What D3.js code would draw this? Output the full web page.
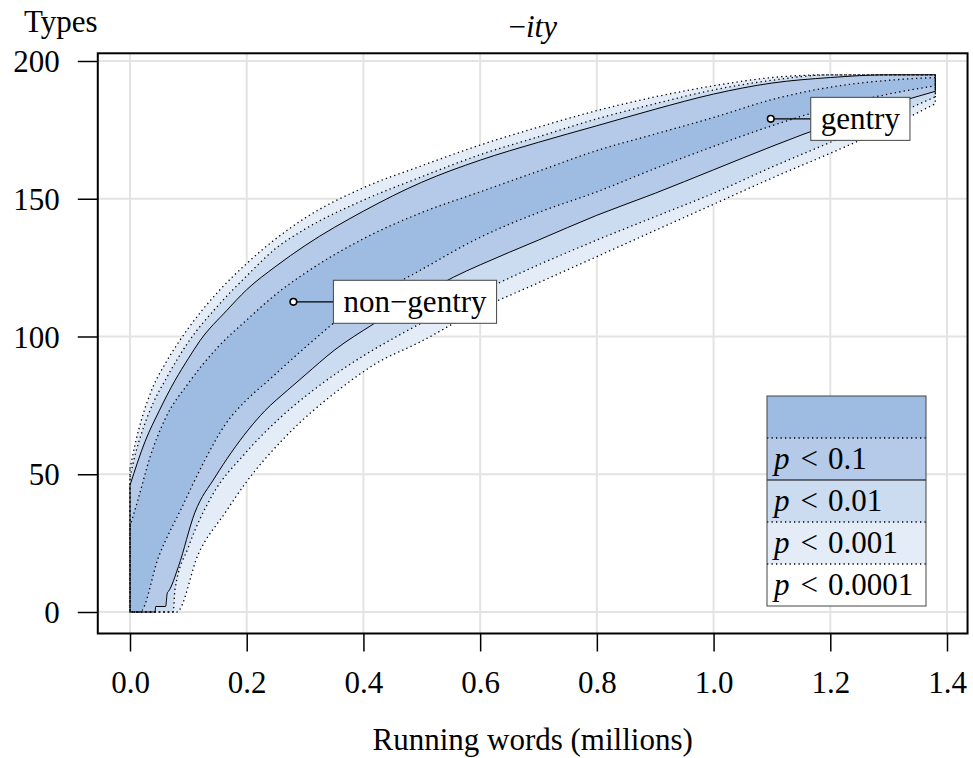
<!DOCTYPE html>
<html>
<head>
<meta charset="utf-8">
<script src="https://cdn.jsdelivr.net/npm/d3@7"></script>
<style>
  body { margin: 0; background: #fff; }
  svg text { font-family: "Liberation Serif", "Times New Roman", serif; fill: #000; }
</style>
</head>
<body>
<svg id="chart" width="973" height="758"></svg>
<script>
// tick labels
const xTicks = [0, 0.2, 0.4, 0.6, 0.8, 1.0, 1.2, 1.4];
const yTicks = [0, 50, 100, 150, 200];

// envelope boundaries, [running words (millions), types]
const upper0001 = [[0,52],[0.01,62],[0.02,70],[0.04,82],[0.06,90],[0.1,103],[0.15,116],[0.2,126.5],[0.25,135.5],[0.3,143],[0.4,154],[0.5,162],[0.6,169.5],[0.7,176],[0.8,182],[0.9,187],[1.0,191],[1.1,194],[1.2,195],[1.38,195]];
const upper001 = [[0,49],[0.01,58],[0.02,65],[0.04,76],[0.06,84],[0.1,98],[0.15,111],[0.2,122],[0.25,132],[0.3,139],[0.4,149.5],[0.5,158],[0.6,166],[0.7,172.5],[0.8,179],[0.9,184.5],[1.0,189.5],[1.1,193],[1.2,195],[1.38,195]];
const upper01 = [[0,46],[0.026,62],[0.05,73],[0.077,84],[0.1,92],[0.12,98.5],[0.166,109.5],[0.2,117],[0.25,125.5],[0.3,133],[0.4,145.5],[0.5,156],[0.6,164],[0.7,170.5],[0.8,176.5],[0.9,182.5],[1.0,188],[1.1,192],[1.2,194],[1.3,195],[1.38,195]];
const upper1 = [[0,31],[0.014,41],[0.034,56],[0.06,70],[0.1,83],[0.15,96],[0.2,106],[0.257,116.5],[0.3,123],[0.4,135.5],[0.5,145],[0.6,152.5],[0.7,160],[0.8,167.5],[0.9,173.5],[1.0,179.5],[1.1,186],[1.2,190.5],[1.3,193],[1.38,194]];

const lower1 = [[0,0],[0.017,0],[0.049,20],[0.089,38],[0.128,55],[0.163,68],[0.2,77],[0.237,84],[0.3,96],[0.4,113],[0.48,122],[0.6,136],[0.7,145],[0.8,152.5],[0.9,161],[1.0,169],[1.1,176.5],[1.2,183],[1.3,188],[1.38,191]];
const lower01 = [[0,0],[0.043,0],[0.044,2],[0.061,2],[0.064,7],[0.066,7.5],[0.083,16.5],[0.111,36],[0.146,49],[0.174,58],[0.231,73],[0.27,80.5],[0.3,86],[0.35,95],[0.417,104.5],[0.5,115],[0.554,121.5],[0.6,126],[0.7,135],[0.8,144],[0.9,152],[1.0,160.5],[1.1,169],[1.2,177],[1.3,184],[1.38,189]];
const lower001 = [[0,0],[0.074,0],[0.077,8],[0.1,23.5],[0.14,42],[0.197,57.5],[0.26,71],[0.314,80.5],[0.4,93],[0.457,100],[0.55,110.5],[0.628,119],[0.7,126],[0.8,135],[0.9,143.5],[1.0,152],[1.1,161.5],[1.2,170.5],[1.3,179.5],[1.38,187]];
const lower0001 = [[0,0],[0.08,0],[0.117,21],[0.163,36],[0.197,46.5],[0.266,63.5],[0.36,81],[0.42,90],[0.497,98],[0.6,110],[0.7,119.5],[0.8,129],[0.9,138.5],[1.0,148],[1.1,157.5],[1.2,166.5],[1.3,176],[1.38,184.5]];

const legendLabels = ["", "0.1", "0.01", "0.001", "0.0001"];
const groupNames = ["non\u2212gentry", "gentry"];
const groupX = [0.28, 1.098];
const groupY = [112.6, 179];

const bandFill = ["#e4ecf7", "#cbdbf0", "#b4cae8", "#9ebbe1"];
const bandDash = ["1.3,3.2", "1.3,3.2", null, "1.3,3.2"];

const svg = d3.select("#chart");
const fs = 31;

const x = d3.scaleLinear().domain([0, 1.4]).range([130, 947]);
const y = d3.scaleLinear().domain([0, 200]).range([612, 61]);

// plot region: data range padded 4%, R style
const box = {
  left: x(-0.04 * 1.38), right: x(1.38 * 1.04),
  top: y(195 * 1.04), bottom: y(-0.04 * 195)
};

// grid
svg.append("g").selectAll("line").data(xTicks).join("line")
  .attr("x1", d => x(d)).attr("x2", d => x(d))
  .attr("y1", box.top).attr("y2", box.bottom)
  .attr("stroke", "#e3e3e3").attr("stroke-width", 2);
svg.append("g").selectAll("line").data(yTicks).join("line")
  .attr("x1", box.left).attr("x2", box.right)
  .attr("y1", d => y(d)).attr("y2", d => y(d))
  .attr("stroke", "#e3e3e3").attr("stroke-width", 2);

// bands, outer to inner
const line = d3.line().x(d => x(d[0])).y(d => y(d[1])).curve(d3.curveMonotoneX);
const bands = [[upper0001, lower0001], [upper001, lower001], [upper01, lower01], [upper1, lower1]];
const bandPath = b => line(b[0]) + line(b[1].slice().reverse()).replace(/^M/, "L") + "Z";

svg.append("g").selectAll("path").data(bands).join("path")
  .attr("d", bandPath)
  .attr("fill", (d, i) => bandFill[i]).attr("stroke", "none");
svg.append("g").selectAll("path").data(bands).join("path")
  .attr("d", bandPath)
  .attr("fill", "none").attr("stroke", "#000")
  .attr("stroke-width", (d, i) => bandDash[i] ? 1.3 : 1)
  .attr("stroke-dasharray", (d, i) => bandDash[i]);

// group labels
const lab = svg.append("g").selectAll("g").data(groupNames).join("g");
lab.append("line")
  .attr("x1", (d, i) => x(groupX[i])).attr("x2", (d, i) => x(groupX[i]) + 40)
  .attr("y1", (d, i) => y(groupY[i])).attr("y2", (d, i) => y(groupY[i]))
  .attr("stroke", "#000").attr("stroke-width", 1.2);
lab.append("circle")
  .attr("cx", (d, i) => x(groupX[i])).attr("cy", (d, i) => y(groupY[i])).attr("r", 3.3)
  .attr("fill", "#fff").attr("stroke", "#000").attr("stroke-width", 1.6);
lab.each(function(d, i) {
  const g = d3.select(this);
  const t = g.append("text")
    .attr("x", x(groupX[i]) + 50).attr("y", y(groupY[i]) + 10)
    .attr("font-size", fs).text(d);
  const w = t.node().getComputedTextLength();
  g.insert("rect", "text")
    .attr("x", x(groupX[i]) + 40).attr("y", y(groupY[i]) - 21.5)
    .attr("width", w + 20).attr("height", 43)
    .attr("fill", "#fff").attr("stroke", "#444").attr("stroke-width", 1);
});

// legend
const lg = { left: 767, top: 396, w: 159, h: 42 };
const leg = svg.append("g");
const legFill = [bandFill[3], bandFill[2], bandFill[1], bandFill[0], "#fff"];
leg.selectAll("rect").data(legendLabels).join("rect")
  .attr("x", lg.left).attr("y", (d, i) => lg.top + i * lg.h)
  .attr("width", lg.w).attr("height", lg.h)
  .attr("fill", (d, i) => legFill[i]);
leg.selectAll("line").data(legendLabels.slice(1)).join("line")
  .attr("x1", lg.left).attr("x2", lg.left + lg.w)
  .attr("y1", (d, i) => lg.top + (i + 1) * lg.h).attr("y2", (d, i) => lg.top + (i + 1) * lg.h)
  .attr("stroke", "#000")
  .attr("stroke-width", (d, i) => bandDash[3 - i] ? 1.3 : 1)
  .attr("stroke-dasharray", (d, i) => bandDash[3 - i]);
const lt = leg.selectAll("text").data(legendLabels.filter(d => d)).join("text")
  .attr("x", lg.left + 7).attr("y", (d, i) => lg.top + (i + 1) * lg.h + 31)
  .attr("font-size", fs);
lt.append("tspan").attr("font-style", "italic").text("p");
lt.append("tspan").attr("dx", 11).text("<");
lt.append("tspan").attr("dx", 10).text(d => d);
leg.append("rect")
  .attr("x", lg.left).attr("y", lg.top).attr("width", lg.w).attr("height", lg.h * 5)
  .attr("fill", "none").attr("stroke", "#444").attr("stroke-width", 1);

// frame
svg.append("rect")
  .attr("x", box.left).attr("y", box.top)
  .attr("width", box.right - box.left).attr("height", box.bottom - box.top)
  .attr("fill", "none").attr("stroke", "#000").attr("stroke-width", 2);

// axes
const xAxis = svg.append("g").attr("transform", `translate(0,${box.bottom})`)
  .call(d3.axisBottom(x).tickValues(xTicks).tickFormat(d3.format(".1f")).tickSize(18).tickPadding(31));
const yAxis = svg.append("g").attr("transform", `translate(${box.left},0)`)
  .call(d3.axisLeft(y).tickValues(yTicks).tickSize(20).tickPadding(18));
[xAxis, yAxis].forEach(a => {
  a.select(".domain").remove();
  a.selectAll(".tick line").attr("stroke", "#000").attr("stroke-width", 1.5);
  a.selectAll(".tick text").attr("font-size", fs).attr("font-family", "Liberation Serif, serif");
});
xAxis.selectAll(".tick text").attr("dy", "0.34em");
yAxis.selectAll(".tick text").attr("dy", "0.34em");

// titles
svg.append("text").attr("x", (box.left + box.right) / 2).attr("y", 750)
  .attr("text-anchor", "middle").attr("font-size", fs).text("Running words (millions)");
svg.append("text").attr("x", 24).attr("y", 32).attr("font-size", fs).text("Types");
const ttl = svg.append("text").attr("x", (box.left + box.right) / 2).attr("y", 37)
  .attr("text-anchor", "middle").attr("font-size", fs);
ttl.append("tspan").text("\u2212");
ttl.append("tspan").attr("font-style", "italic").text("ity");
</script>
</body>
</html>
